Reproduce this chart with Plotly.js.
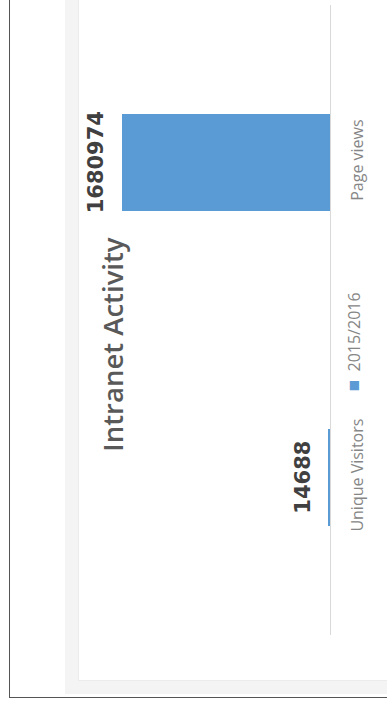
<!DOCTYPE html>
<html>
<head>
<meta charset="utf-8">
<script src="https://cdn.plot.ly/plotly-3.0.1.min.js"></script>
<style>
  html, body { margin: 0; padding: 0; width: 387px; height: 707px; overflow: hidden; background: #ffffff; }
  #frame { position: absolute; left: 9px; top: -4px; width: 400px; height: 702px; border: 1.5px solid #555555; box-sizing: border-box; }
  #panel { position: absolute; left: 65px; top: -10px; width: 340px; height: 704px; background: #f4f4f4; }
  #inner { position: absolute; left: 13px; top: 0; right: 0; bottom: 13px; background: #ffffff; border-left: 1px solid #ececec; border-bottom: 1px solid #ececec; }
  #chart { position: absolute; left: 0; top: 0; width: 387px; height: 707px; }
</style>
</head>
<body>
<div id="frame"></div>
<div id="panel"><div id="inner"></div></div>
<div id="chart"></div>
<script>
const categories = ['Unique Visitors', 'Page views'];
const values = [14688, 1680974];
const seriesName = '2015/2016';
const chartTitle = 'Intranet Activity';

const barColor = '#5b9bd5';

const trace = {
  type: 'bar',
  orientation: 'h',
  y: categories,
  x: values,
  name: seriesName,
  width: 0.31,
  marker: { color: barColor },
  hoverinfo: 'x+y'
};

const labelAnnotations = categories.map((c, i) => ({
  x: values[i], y: c, xref: 'x', yref: 'y',
  text: String(values[i]),
  showarrow: false, textangle: -90,
  xanchor: 'center', yanchor: 'middle', xshift: -26,
  font: { family: 'DejaVu Sans', size: 21, color: '#404040', weight: 'bold' }
}));

const layout = {
  width: 387, height: 707,
  margin: { l: 65, r: 57, t: 5, b: 72 },
  paper_bgcolor: 'rgba(0,0,0,0)',
  plot_bgcolor: 'rgba(0,0,0,0)',
  showlegend: false,
  bargap: 0,
  xaxis: {
    range: [2140000, 0], showgrid: false, zeroline: false,
    showticklabels: false, showline: false, ticks: '', fixedrange: true
  },
  yaxis: {
    side: 'right', showline: true, linecolor: '#d9d9d9', linewidth: 1,
    showgrid: false, zeroline: false, ticks: '', tickangle: -90,
    ticklabelstandoff: 13,
    tickfont: { family: 'Open Sans', size: 16, color: '#868686' },
    fixedrange: true
  },
  annotations: labelAnnotations.concat([
    {
      xref: 'paper', yref: 'paper', x: 0.18, y: 0.462,
      text: chartTitle, showarrow: false, textangle: -90,
      xanchor: 'center', yanchor: 'middle',
      font: { family: 'Open Sans', size: 27.5, color: '#595959', weight: 600 }
    },
    {
      xref: 'paper', yref: 'paper', x: 1.09, y: 0.466,
      text: '<span style="color:' + barColor + ';font-size:19px">■</span>  ' + seriesName,
      showarrow: false, textangle: -90,
      xanchor: 'center', yanchor: 'middle',
      font: { family: 'Open Sans', size: 16, color: '#868686' }
    }
  ])
};

Plotly.newPlot('chart', [trace], layout, { displayModeBar: false, staticPlot: true });
</script>
</body>
</html>
